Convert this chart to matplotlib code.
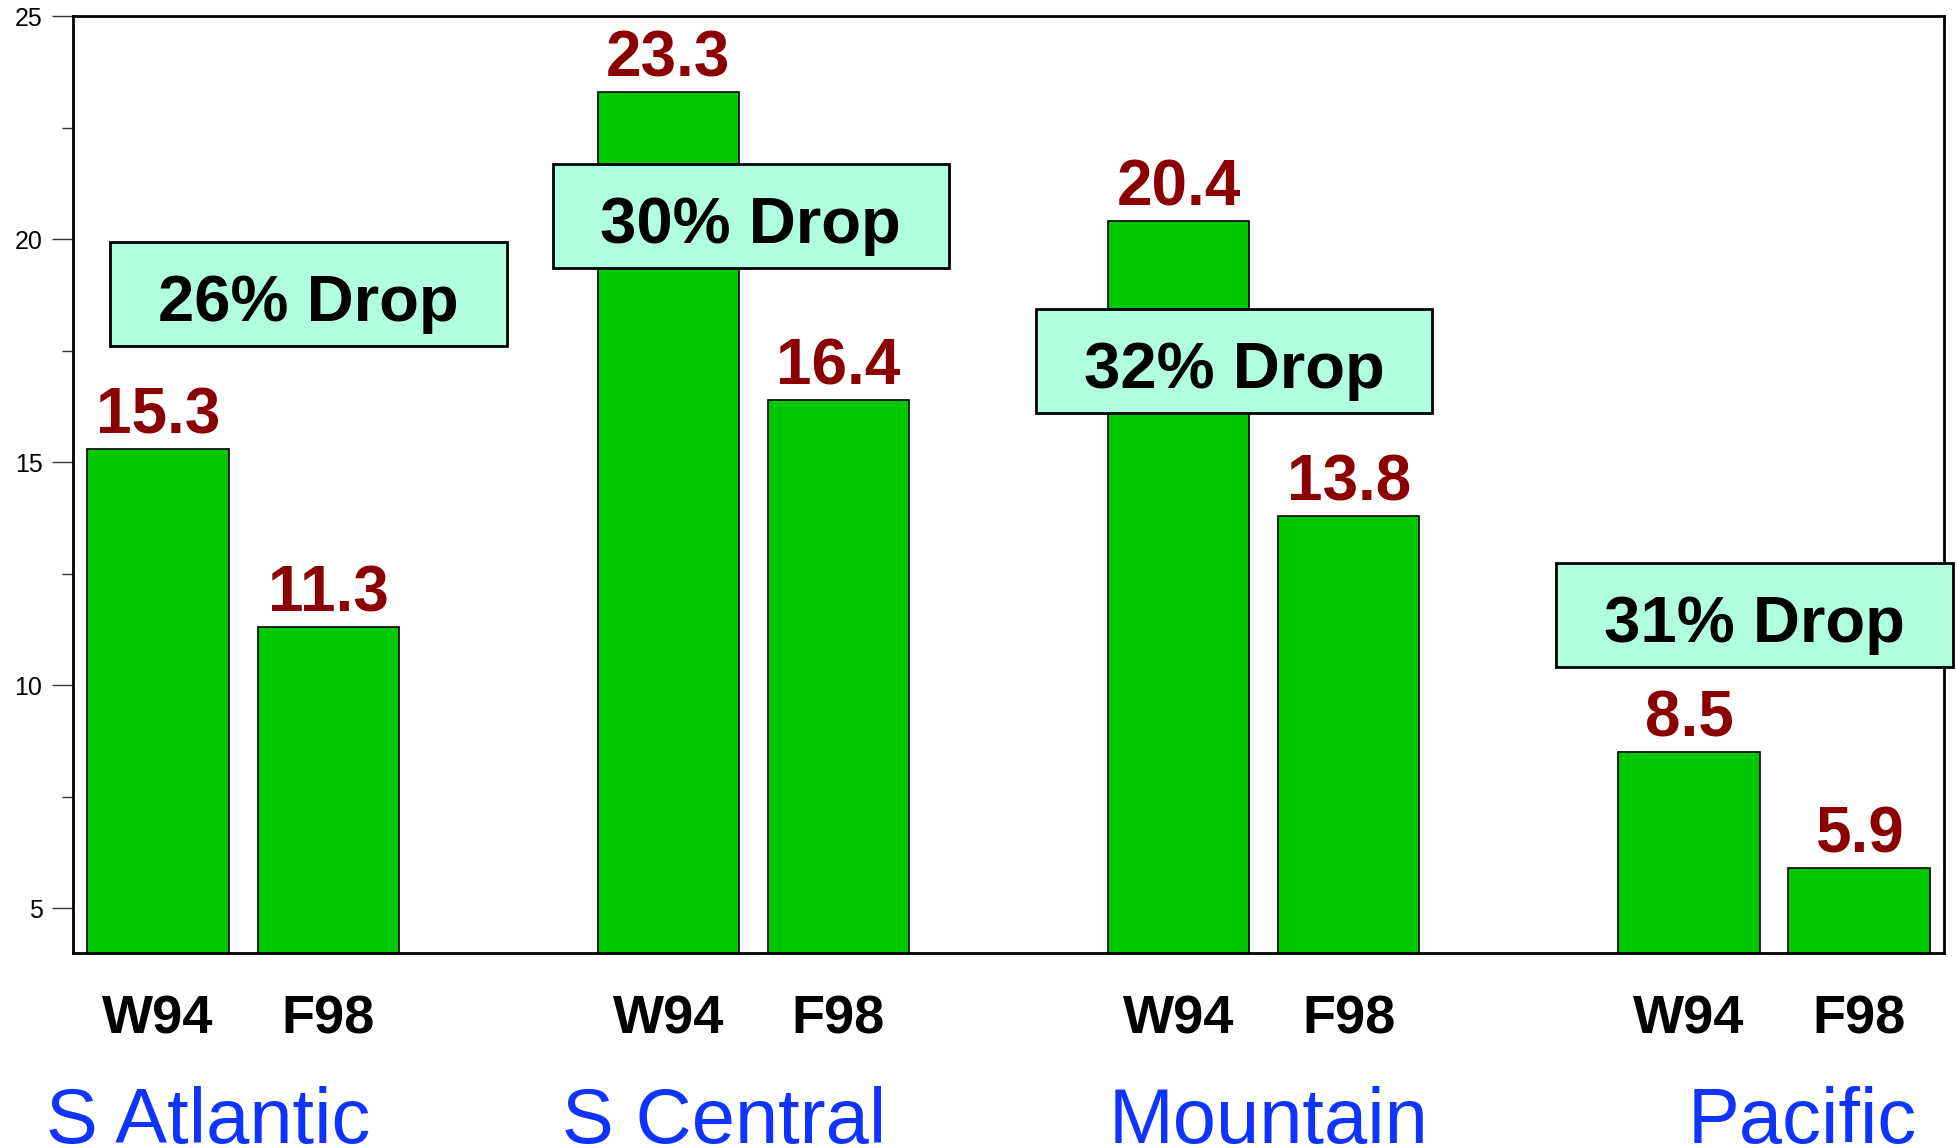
import matplotlib.pyplot as plt
from matplotlib.patches import Rectangle
from matplotlib import transforms
from matplotlib.ticker import MultipleLocator

plt.rcParams['font.family'] = ['Liberation Sans', 'DejaVu Sans']

regions = ['S Atlantic', 'S Central', 'Mountain', 'Pacific']
periods = ['W94', 'F98']
w94 = [15.3, 23.3, 20.4, 8.5]
f98 = [11.3, 16.4, 13.8, 5.9]
drops = ['26% Drop', '30% Drop', '32% Drop', '31% Drop']

# box placement (left x, bottom y) in data units, and region label x
box_pos = [(-0.28, 17.60), (2.32, 19.35), (5.16, 16.10), (8.22, 10.40)]
region_x = [-0.66, 2.375, 5.59, 8.99]

green = '#00c800'
darkred = '#8b0000'
mint = '#b0ffe0'
blue = '#1034ff'

fig = plt.figure(figsize=(19.58, 11.48), dpi=100)
ax = fig.add_axes([0.0373, 0.170, 0.9556, 0.816])

xs, vals, labels = [], [], []
for i in range(len(regions)):
    xs += [3 * i, 3 * i + 1]
    vals += [w94[i], f98[i]]
    labels += periods

bars = ax.bar(xs, vals, width=0.83, color=green, edgecolor='black',
              linewidth=1.2, zorder=2)
for x, v in zip(xs, vals):
    ax.annotate(f'{v:.1f}', (x, v), xytext=(0, 11), textcoords='offset points',
                ha='center', va='baseline', fontsize=46, fontweight='bold',
                color=darkred, zorder=3)

bw, bh = 2.33, 2.33
for (bx, by), txt in zip(box_pos, drops):
    ax.add_patch(Rectangle((bx, by), bw, bh, facecolor=mint, edgecolor='black',
                           linewidth=2, zorder=4, clip_on=False))
    ax.annotate(txt, (bx + bw / 2, by + bh / 2), xytext=(0, -19.5),
                textcoords='offset points', ha='center', va='baseline',
                fontsize=47, fontweight='bold', color='black', zorder=5,
                annotation_clip=False)

ax.set_xlim(-0.5, 10.5)
ax.set_ylim(4, 25)
ax.set_xticks(xs)
ax.set_xticklabels(labels, fontsize=39, fontweight='bold')
ax.tick_params(axis='x', length=0, pad=30)
ax.yaxis.set_minor_locator(MultipleLocator(2.5))
ax.set_yticks([5, 10, 15, 20, 25])
ax.tick_params(axis='y', which='major', length=15, width=1, color='#333333',
               labelsize=18, pad=7)
ax.tick_params(axis='y', which='minor', length=8, width=1, color='#333333')

for s in ax.spines.values():
    s.set_linewidth(2)
    s.set_color('black')

trans = transforms.blended_transform_factory(ax.transData, fig.transFigure)
for rx, name in zip(region_x, regions):
    ax.text(rx, 0.004, name, transform=trans, ha='left', va='baseline',
            fontsize=56, color=blue, clip_on=False)

fig.savefig('out.png', dpi=100)
